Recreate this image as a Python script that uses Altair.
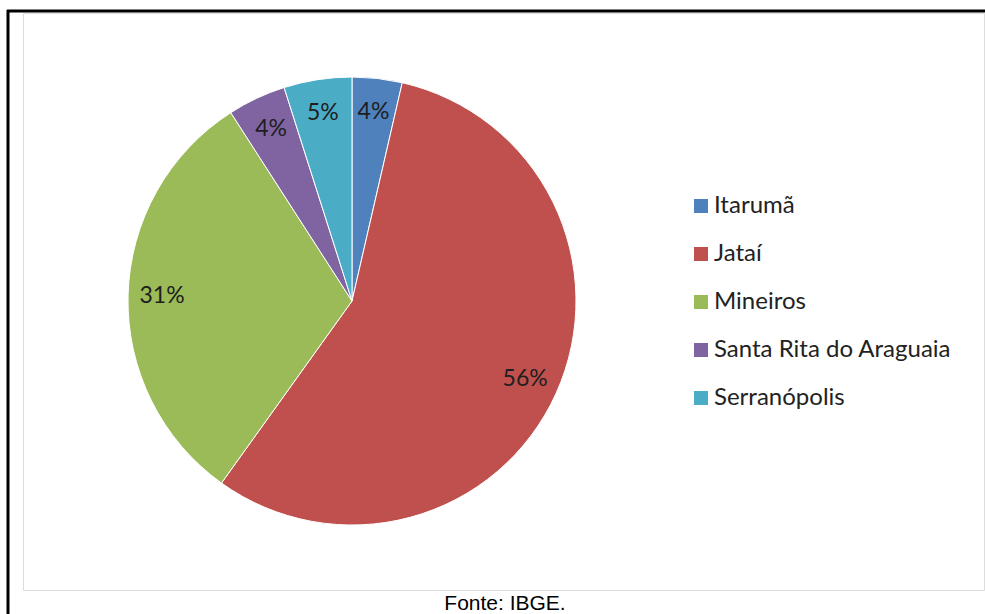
import altair as alt
import pandas as pd

categories = ["Itarumã", "Jataí", "Mineiros", "Santa Rita do Araguaia", "Serranópolis"]
values = [3.6, 56.3, 31.0, 4.2, 4.9]
labels = ["4%", "56%", "31%", "4%", "5%"]
colors = ["#4F81BD", "#C0504D", "#9BBB59", "#8064A2", "#4BACC6"]
source_note = "Fonte: IBGE."

df = pd.DataFrame({"idx": list(range(len(categories))), "cat": categories,
                   "value": values, "label": labels})
one = pd.DataFrame({"a": [0]})

CX, CY = 329, 288

pie = alt.Chart(df).mark_arc(outerRadius=224, stroke="white", strokeWidth=1).encode(
    theta=alt.Theta("value:Q", stack=True),
    order=alt.Order("idx:Q"),
    color=alt.Color("cat:N", scale=alt.Scale(domain=categories, range=colors),
                    legend=alt.Legend(title=None, orient="none", legendX=666, legendY=181,
                                      symbolType="square", symbolSize=196, symbolStrokeWidth=0,
                                      labelFont="Lato", labelFontSize=24, labelColor="#222222",
                                      labelOffset=1, rowPadding=24, padding=0, labelLimit=400)),
    x=alt.value(CX), y=alt.value(CY),
)

text = alt.Chart(df).mark_text(radius=190, font="Lato", fontSize=23, color="#1e1e1e").encode(
    theta=alt.Theta("value:Q", stack=True),
    order=alt.Order("idx:Q"),
    text="label:N",
    x=alt.value(CX), y=alt.value(CY),
)

left_rule = alt.Chart(one).mark_rule(color="black", strokeWidth=3).encode(
    x=alt.value(-15), y=alt.value(-3), y2=alt.value(601))
top_rule = alt.Chart(one).mark_rule(color="black", strokeWidth=3).encode(
    x=alt.value(-16), x2=alt.value(962), y=alt.value(-2))

note = alt.Chart(one).mark_text(font="Liberation Sans", fontSize=21, color="black").encode(
    text=alt.value(source_note), x=alt.value(482), y=alt.value(590.5))

chart = alt.layer(pie, text, left_rule, top_rule, note).properties(
    width=961, height=577, autosize=alt.AutoSizeParams(type="none"),
    padding={"left": 23, "top": 13, "right": 1, "bottom": 24},
).configure_view(stroke="#8c8c8c", strokeWidth=2).configure(background="white")

chart.save("out.html", embed_options={"renderer": "svg", "actions": False})
